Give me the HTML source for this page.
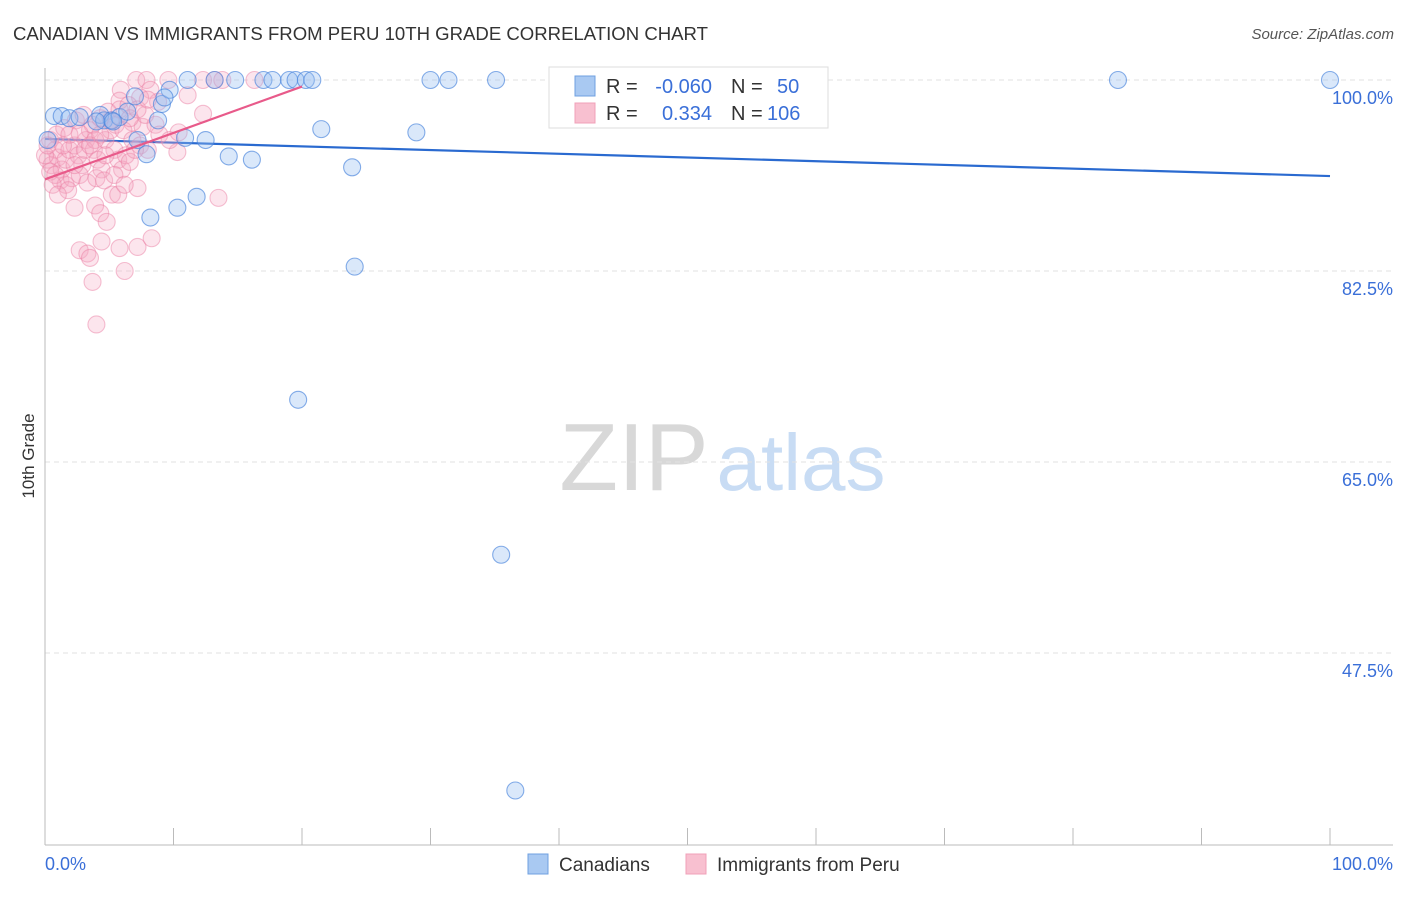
<!DOCTYPE html>
<html><head><meta charset="utf-8"><style>
body{margin:0;background:#fff;font-family:"Liberation Sans",sans-serif}
svg text{font-family:"Liberation Sans",sans-serif}
</style></head><body>
<svg id="chart" width="1406" height="892" xmlns="http://www.w3.org/2000/svg">
<text x="13" y="40" font-size="18" fill="#333" textLength="695" lengthAdjust="spacingAndGlyphs">CANADIAN VS IMMIGRANTS FROM PERU 10TH GRADE CORRELATION CHART</text>
<text x="1394" y="39" font-size="15" fill="#555" font-style="italic" text-anchor="end">Source: ZipAtlas.com</text>
<g><text x="634" y="490" font-size="96" fill="#d8d8d8" text-anchor="middle" font-family="Liberation Serif">ZIP</text><text x="801" y="490" font-size="80" fill="#c8dcf4" text-anchor="middle">atlas</text></g>
<g id="grid"></g><g id="axes"></g><g id="trend"></g><g id="pts"></g>
<text transform="translate(34,456) rotate(-90)" font-size="17" fill="#333" text-anchor="middle">10th Grade</text>
<g>
<rect x="549" y="67" width="279" height="61" fill="#fff" stroke="#ddd"/>
<rect x="575" y="76" width="20" height="20" fill="#a9c9f2" stroke="#6fa0e0"/>
<rect x="575" y="103" width="20" height="20" fill="#f8c0d0" stroke="#f0a0b8"/>
<text x="606" y="93" font-size="20" fill="#333">R =</text>
<text x="712" y="93" font-size="20" fill="#3a6fd8" text-anchor="end">-0.060</text>
<text x="731" y="93" font-size="20" fill="#333">N =</text>
<text x="777" y="93" font-size="20" fill="#3a6fd8">50</text>
<text x="606" y="120" font-size="20" fill="#333">R =</text>
<text x="712" y="120" font-size="20" fill="#3a6fd8" text-anchor="end">0.334</text>
<text x="731" y="120" font-size="20" fill="#333">N =</text>
<text x="767" y="120" font-size="20" fill="#3a6fd8">106</text>
</g>
<g>
<rect x="528" y="854" width="20" height="20" fill="#a9c9f2" stroke="#6fa0e0"/>
<text x="559" y="871" font-size="19" fill="#333">Canadians</text>
<rect x="686" y="854" width="20" height="20" fill="#f8c0d0" stroke="#f0a0b8"/>
<text x="717" y="871" font-size="19" fill="#333">Immigrants from Peru</text>
</g>
</svg>
<script>
const yTicks=[100,82.5,65,47.5];
const yTickLabels=["100.0%","82.5%","65.0%","47.5%"];
const xTickLabels=["0.0%","100.0%"];
const blueX=[0.7,1.3,1.9,2.7,4.3,4.6,5.2,5.8,6.4,7.0,7.2,7.9,8.2,8.8,9.1,9.7,10.3,10.9,11.1,11.8,12.5,13.2,14.3,14.8,16.1,17.0,17.7,19.0,19.5,19.7,20.3,20.8,21.5,23.9,24.1,28.9,30.0,31.4,35.1,35.5,36.6,40.9,47.5,56.4,83.5,100,0.2,4.0,5.3,9.3];
const blueY=[96.7,96.7,96.5,96.6,96.8,96.3,96.3,96.6,97.1,98.5,94.5,93.2,87.4,96.3,97.8,99.1,88.3,94.7,100,89.3,94.5,100,93.0,100,92.7,100,100,100,100,70.7,100,100,95.5,92.0,82.9,95.2,100,100,100,56.5,34.9,100,100,100,100,100,94.5,96.2,96.2,98.4];
const pinkX=[7.1,7.9,9.6,12.3,13.2,13.8,16.3,5.9,8.2,11.1,5.8,7.4,8.8,12.3,6.8,7.6,10.3,7.2,5.2,5.7,13.5,2.3,3.9,4.3,4.8,4.4,2.7,3.3,3.5,5.8,7.2,8.3,6.2,3.7,4.0,0.4,0.8,0.2,0.5,1.0,1.3,1.6,1.9,2.3,2.6,2.9,3.2,3.5,3.8,4.1,4.4,4.7,5.1,5.4,5.7,6.0,6.3,6.6,1.2,1.6,2.1,2.7,3.3,4.0,4.6,0.4,0.9,1.5,2.4,3.0,3.7,4.3,4.9,5.5,6.1,6.8,7.4,8.0,0.8,1.8,2.3,3.1,3.9,4.7,5.4,6.2,7.0,0,0.2,0.6,1.0,1.4,1.9,2.7,3.5,4.3,5.1,5.8,6.5,7.8,8.6,8.9,9.7,10.4,6.6,7.2,8.0];
const pinkY=[100,100,100,100,100,100,100,99.1,99.1,98.6,98.1,98.4,98.0,96.9,96.1,95.7,93.4,90.1,89.5,89.5,89.2,88.3,88.5,87.8,87.0,85.2,84.4,84.1,83.7,84.6,84.7,85.5,82.5,81.5,77.6,94.5,93.6,92.7,92.2,92.9,91.8,92.7,93.6,94.0,93.1,92.2,94.5,95.4,93.6,92.7,91.8,94.5,95.4,93.6,92.7,91.8,93.1,92.5,90.8,90.4,91.0,91.3,90.6,91.0,90.8,91.6,95.0,95.6,96.3,96.8,95.9,96.5,97.1,95.9,95.4,94.5,94.0,93.6,91.3,89.9,92.2,93.6,94.5,93.1,91.3,90.4,93.6,93.1,94.0,90.4,89.5,94.0,95.0,95.1,94.0,95.0,96.3,97.3,97.7,96.8,95.9,95.0,94.5,95.2,96.5,97.3,98.2];
const blueTrend=[[0,94.6],[100,91.2]];
const pinkTrend=[[0,90.9],[20,99.4]];
const NS="http://www.w3.org/2000/svg";
const X=v=>45+v*12.85, Y=v=>80+(100-v)*10.914;
function mk(p,t,a){const e=document.createElementNS(NS,t);for(const k in a)e.setAttribute(k,a[k]);p.appendChild(e);return e;}
const grid=document.getElementById('grid'),axes=document.getElementById('axes'),tr=document.getElementById('trend'),pts=document.getElementById('pts');
yTicks.forEach((t,i)=>{const l=mk(grid,'line',{x1:45,x2:1393,y1:Y(t),y2:Y(t),stroke:'#e2e2e2','stroke-dasharray':'5,4'});


const tx=mk(axes,'text',{x:1393,y:Y(t)+24,'font-size':18,fill:'#3a6fd8','text-anchor':'end'});tx.textContent=yTickLabels[i];

});
const ya=mk(axes,'line',{x1:45,x2:45,y1:68,y2:845,stroke:'#bbb'});


const xa=mk(axes,'line',{x1:45,x2:1393,y1:845,y2:845,stroke:'#bbb'});


for(let i=1;i<=10;i++){const t=mk(axes,'line',{x1:X(i*10),x2:X(i*10),y1:828,y2:845,stroke:'#bbb'});

}
[[0,'start',45],[100,'end',1393]].forEach((d,i)=>{const t=mk(axes,'text',{x:d[2],y:870,'font-size':18,fill:'#3a6fd8','text-anchor':d[1]});t.textContent=xTickLabels[i];

});
function series(xs,ys,fill,stroke,name){xs.forEach((x,i)=>{const c=mk(pts,'circle',{cx:X(x),cy:Y(ys[i]),r:8.5,fill:fill,stroke:stroke,'stroke-width':1.1});

});}
series(pinkX,pinkY,'rgba(246,170,195,0.3)','rgba(236,130,165,0.5)','point-peru');
series(blueX,blueY,'rgba(150,190,240,0.35)','rgba(70,130,220,0.65)','point-canadian');
const bl=mk(tr,'line',{x1:X(blueTrend[0][0]),y1:Y(blueTrend[0][1]),x2:X(blueTrend[1][0]),y2:Y(blueTrend[1][1]),stroke:'#2a6ad0','stroke-width':2.2});


const pl=mk(pts,'line',{x1:X(pinkTrend[0][0]),y1:Y(pinkTrend[0][1]),x2:X(pinkTrend[1][0]),y2:Y(pinkTrend[1][1]),stroke:'#e85a8a','stroke-width':2.2});


</script>
</body></html>
